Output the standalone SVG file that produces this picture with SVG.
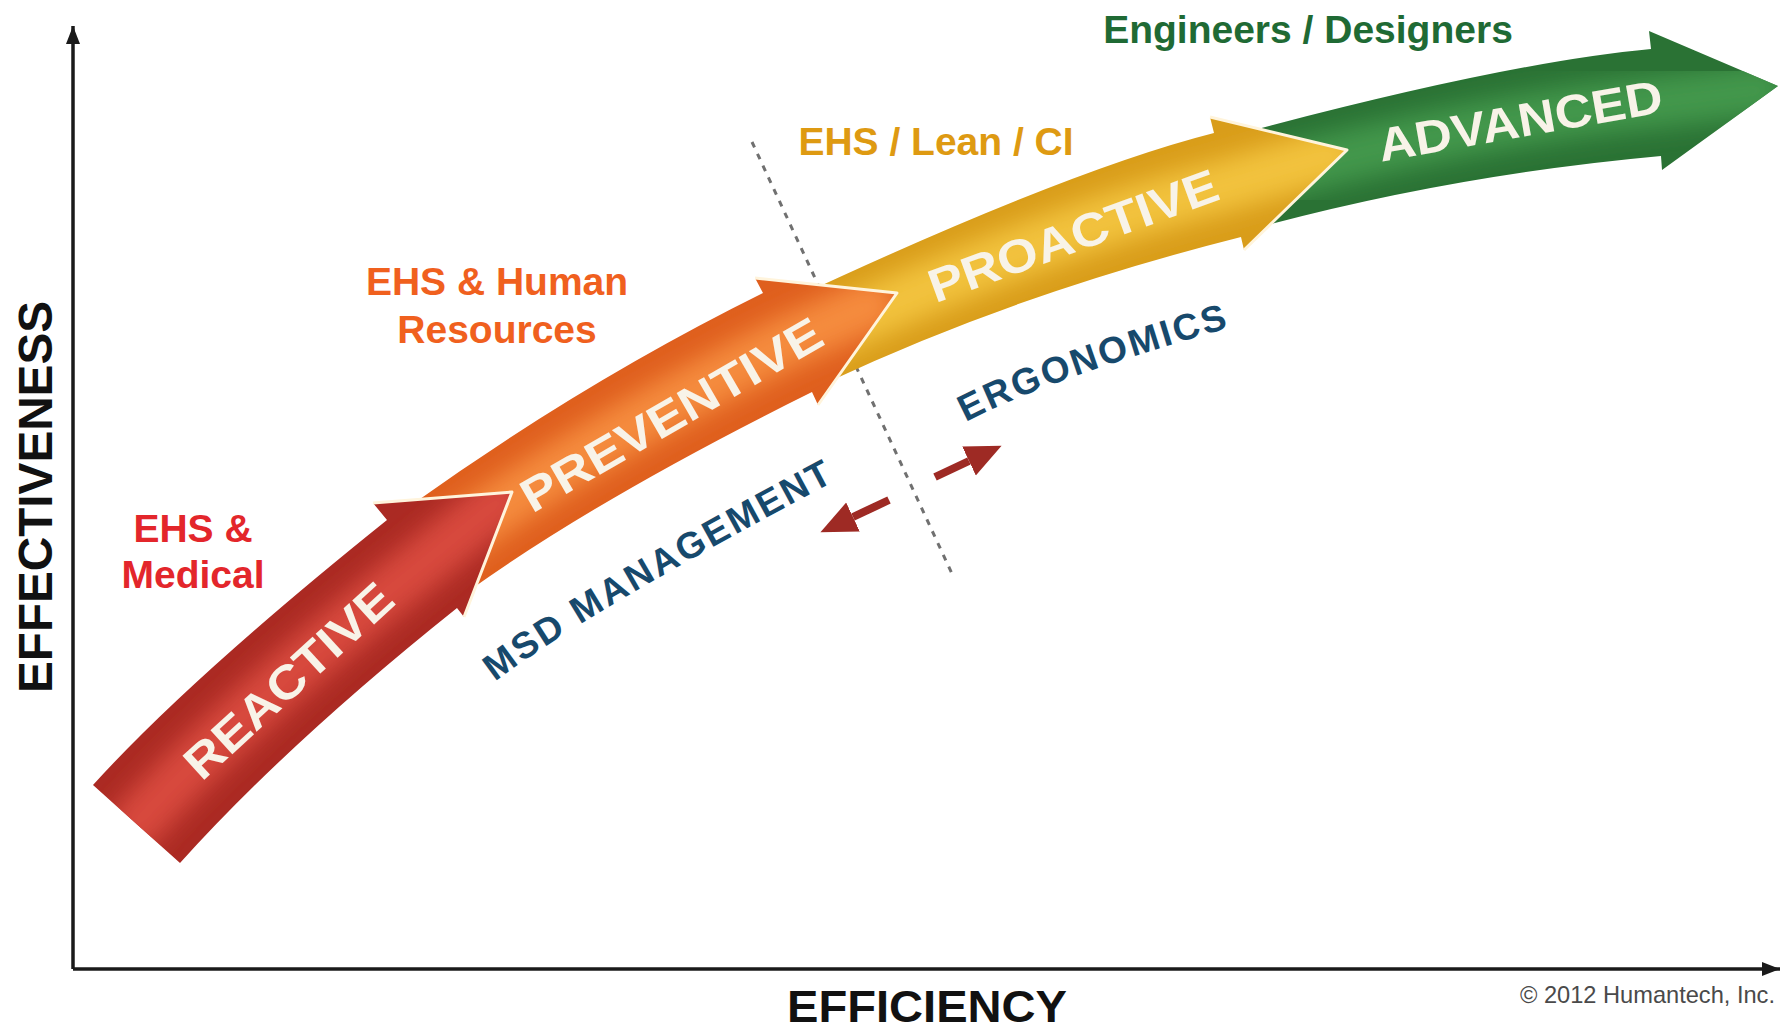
<svg xmlns="http://www.w3.org/2000/svg" width="1781" height="1030" viewBox="0 0 1781 1030">
  <defs>
    <style>
      .lbl{font-family:"Liberation Sans",Arial,sans-serif;font-weight:bold;}
      .role{font-size:39px;text-anchor:middle;}
      .stage{font-size:47px;fill:#f8f3e8;text-anchor:middle;}
      .topic{font-size:37px;fill:#17496c;letter-spacing:2.5px;}
      .axis{stroke:#1a1a1a;stroke-width:3.5;fill:none;}
      .edge{fill:none;stroke:#fff4dc;stroke-width:3;stroke-linejoin:round;}
      .sheen{fill:none;stroke-width:52;stroke-linecap:round;filter:url(#soft);}
      .guide{stroke:#707070;stroke-width:3;stroke-dasharray:6 7;fill:none;}
      .pointer{stroke:#9e2a24;stroke-width:8;fill:none;}
    </style>
    <filter id="soft" x="-20%" y="-20%" width="140%" height="140%">
      <feGaussianBlur stdDeviation="12"/>
    </filter>
    <marker id="axhead" markerUnits="userSpaceOnUse" markerWidth="20" markerHeight="16" refX="18" refY="8" orient="auto">
      <path d="M0,1 L18,8 L0,15 Z" fill="#1a1a1a"/>
    </marker>
    <marker id="redhead" markerUnits="userSpaceOnUse" markerWidth="38" markerHeight="34" refX="0" refY="17" orient="auto">
      <path d="M0,1 L36,17 L0,33 Z" fill="#9e2a24"/>
    </marker>

    <!-- stage arrow outlines -->
    <path id="shp-advanced" d="M1235,135 Q1505,62.5 1651,49 L1649,31 L1778,86 L1662,170 L1661,156 Q1453,175 1260,227 Z"/>
    <path id="shp-proactive" d="M790,300 Q1068,170 1214,133 L1210,117 L1347,150 L1244,250 L1241,237 Q1015,294 828,382 Z"/>
    <path id="shp-preventive" d="M410,506 Q583,382 763,293 L755,278 L897,293 L818,405 L812,392 Q600,497 470,590 Z"/>
    <path id="shp-reactive" d="M93,785 Q190,678 387,520 L373,503 L512,492 L464,617 L457,608 Q288,743 180,863 Z"/>

    <clipPath id="clip-advanced"><use href="#shp-advanced"/></clipPath>
    <clipPath id="clip-proactive"><use href="#shp-proactive"/></clipPath>
    <clipPath id="clip-preventive"><use href="#shp-preventive"/></clipPath>
    <clipPath id="clip-reactive"><use href="#shp-reactive"/></clipPath>

    <!-- baselines for the curved topic labels -->
    <path id="base-msd" d="M495,682 Q577,618 833,482"/>
    <path id="base-ergo" d="M966,422 Q1043,381 1228,328"/>
  </defs>

  <rect width="1781" height="1030" fill="#ffffff"/>

  <!-- axes -->
  <g id="axes">
    <line class="axis" x1="73" y1="969" x2="73" y2="26" marker-end="url(#axhead)"/>
    <line class="axis" x1="73" y1="969" x2="1780" y2="969" marker-end="url(#axhead)"/>
    <text class="lbl" x="0" y="0" transform="translate(52,497) rotate(-90)" text-anchor="middle" font-size="48" textLength="392" lengthAdjust="spacingAndGlyphs" fill="#111">EFFECTIVENESS</text>
    <text class="lbl" x="927" y="1022" text-anchor="middle" font-size="45" textLength="280" lengthAdjust="spacingAndGlyphs" fill="#111">EFFICIENCY</text>
  </g>

  <!-- dotted divider between management and ergonomics, with the two-way pointers -->
  <g id="connectors">
    <line class="guide" x1="752" y1="142" x2="954" y2="578"/>
    <line class="pointer" x1="889" y1="500" x2="853" y2="517" marker-end="url(#redhead)"/>
    <line class="pointer" x1="935" y1="477" x2="969" y2="461" marker-end="url(#redhead)"/>
  </g>

  <!-- stage arrows, drawn back to front -->
  <g id="stage-advanced">
    <use href="#shp-advanced" fill="#2a7234"/>
    <path class="sheen" stroke="#42974b" clip-path="url(#clip-advanced)" d="M1247,181 Q1479,119 1656,102 L1760,90"/>
    <text class="lbl stage" x="0" y="17" transform="translate(1520,120) rotate(-10)" textLength="288" lengthAdjust="spacingAndGlyphs">ADVANCED</text>
  </g>

  <g id="stage-proactive">
    <use href="#shp-proactive" fill="#d99d1a"/>
    <path class="sheen" stroke="#f2c23c" clip-path="url(#clip-proactive)" d="M809,341 Q1041,232 1227,185 L1330,155"/>
    <path class="edge" d="M1210,117 L1347,150 L1244,250"/>
    <text class="lbl stage" x="0" y="17" transform="translate(1073,235) rotate(-20)" textLength="305" lengthAdjust="spacingAndGlyphs">PROACTIVE</text>
  </g>

  <g id="stage-preventive">
    <use href="#shp-preventive" fill="#df5f1e"/>
    <path class="sheen" stroke="#f58b3c" clip-path="url(#clip-preventive)" d="M440,548 Q591,440 787,342 L870,305"/>
    <path class="edge" d="M755,278 L897,293 L818,405"/>
    <text class="lbl stage" x="0" y="17" transform="translate(671,414) rotate(-30)" textLength="340" lengthAdjust="spacingAndGlyphs">PREVENTIVE</text>
  </g>

  <g id="stage-reactive">
    <use href="#shp-reactive" fill="#ab2a23"/>
    <path class="sheen" stroke="#d84a3c" clip-path="url(#clip-reactive)" d="M136,824 Q239,710 422,564 L500,500"/>
    <path class="edge" d="M373,503 L512,492 L464,617"/>
    <text class="lbl stage" x="0" y="17" transform="translate(288,680) rotate(-42.5)" textLength="265" lengthAdjust="spacingAndGlyphs">REACTIVE</text>
  </g>

  <!-- who owns each stage -->
  <g id="role-medical">
    <text class="lbl role" fill="#e3262b"><tspan x="193" y="542">EHS &amp;</tspan><tspan x="193" y="588">Medical</tspan></text>
  </g>
  <g id="role-hr">
    <text class="lbl role" fill="#f0601e"><tspan x="497" y="295">EHS &amp; Human</tspan><tspan x="497" y="343">Resources</tspan></text>
  </g>
  <g id="role-lean">
    <text class="lbl role" x="936" y="155" fill="#de9a12">EHS / Lean / CI</text>
  </g>
  <g id="role-engineering">
    <text class="lbl role" x="1308" y="43" fill="#1f6a34">Engineers / Designers</text>
  </g>

  <!-- programme focus labels -->
  <g id="topic-msd">
    <text class="lbl topic"><textPath href="#base-msd">MSD MANAGEMENT</textPath></text>
  </g>
  <g id="topic-ergonomics">
    <text class="lbl topic"><textPath href="#base-ergo">ERGONOMICS</textPath></text>
  </g>

  <text x="1520" y="1003" font-family="'Liberation Sans',Arial,sans-serif" font-size="24" textLength="255" lengthAdjust="spacingAndGlyphs" fill="#4a4a4a">© 2012 Humantech, Inc.</text>
</svg>
